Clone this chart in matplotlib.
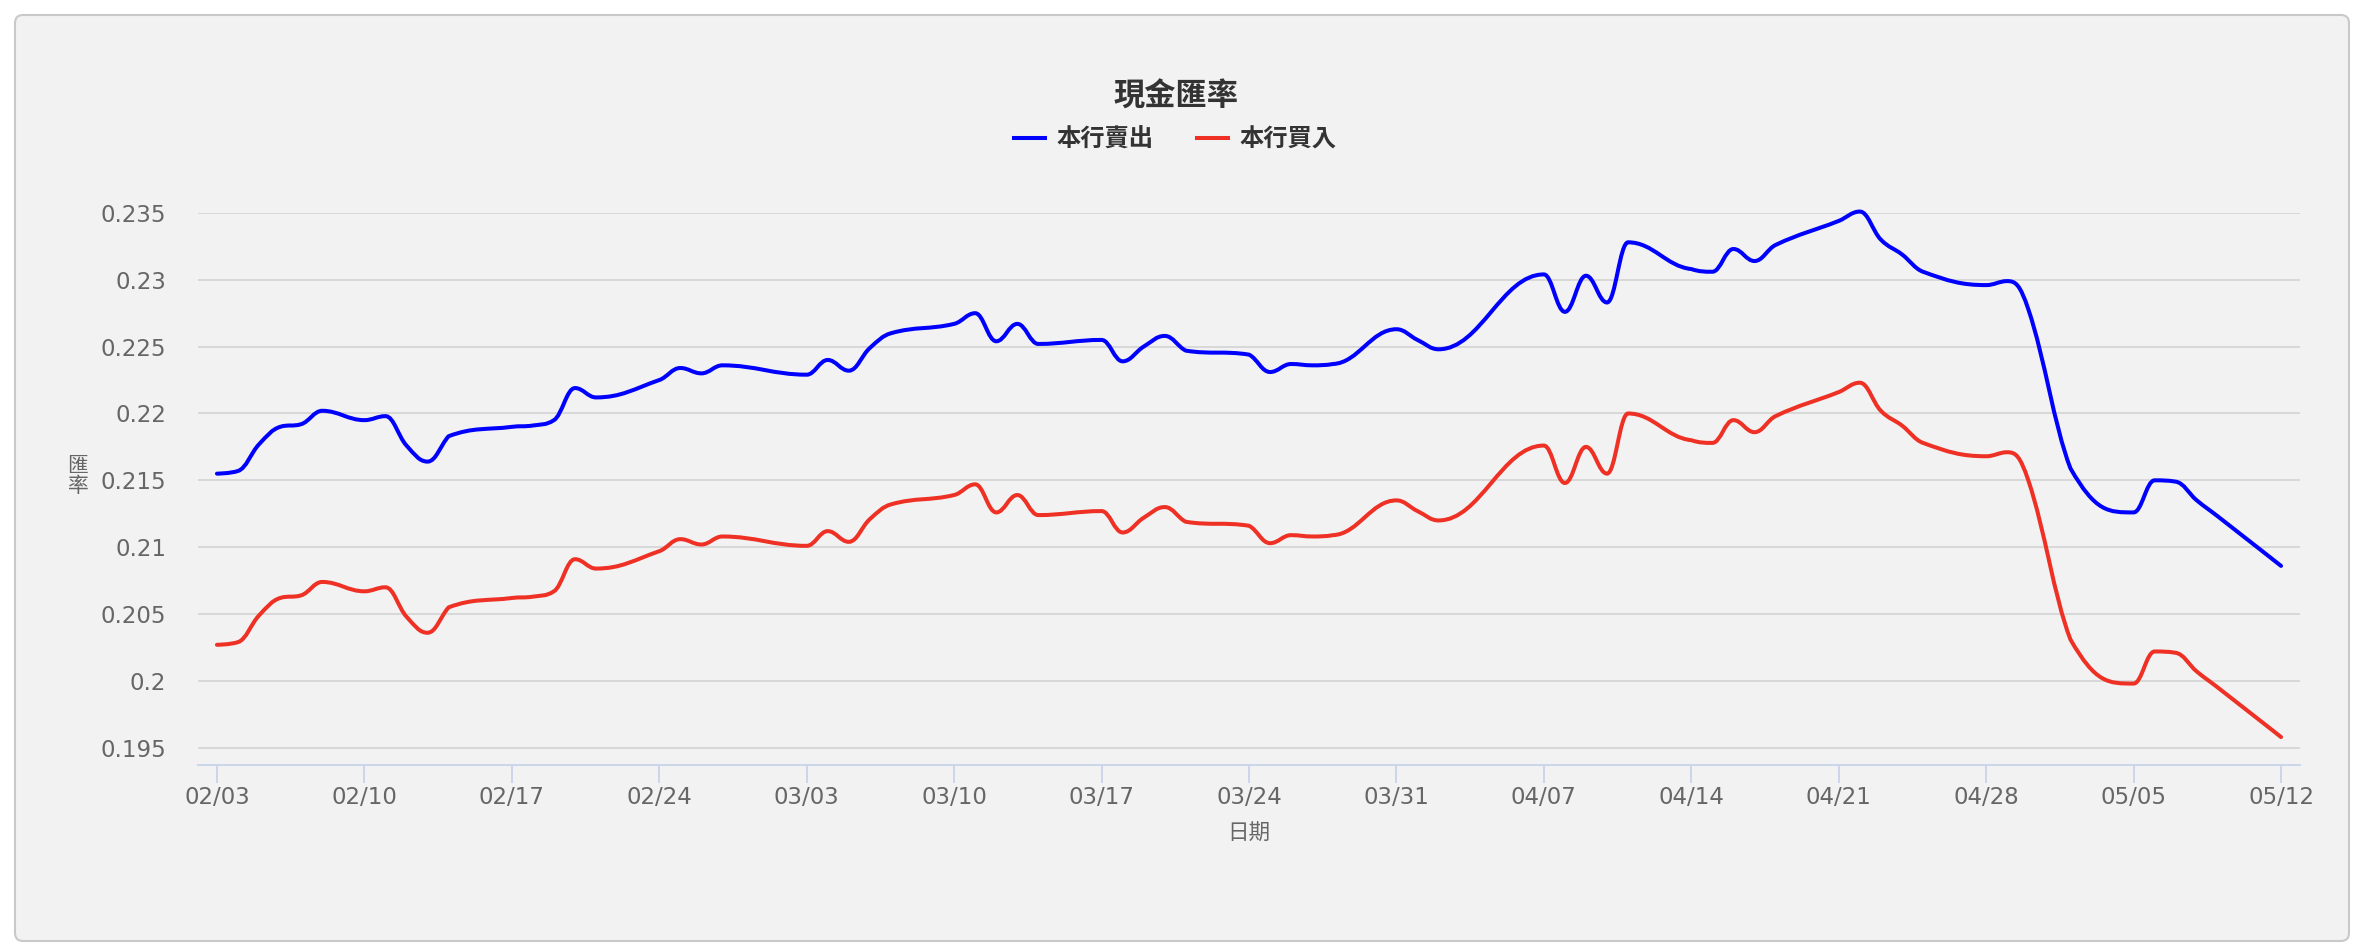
import matplotlib
matplotlib.use('Agg')
import numpy as np
import pandas as pd
import matplotlib.pyplot as plt
from matplotlib.path import Path
from matplotlib.patches import PathPatch, FancyBboxPatch
from matplotlib.lines import Line2D
from matplotlib.transforms import IdentityTransform

plt.rcParams['font.family'] = ['DejaVu Sans', 'Noto Sans CJK TC']

# business days (2025)
dates = ['02/03', '02/04', '02/05', '02/06', '02/07', '02/08',
         '02/10', '02/11', '02/12', '02/13', '02/14',
         '02/17', '02/18', '02/19', '02/20', '02/21',
         '02/24', '02/25', '02/26', '02/27',
         '03/03', '03/04', '03/05', '03/06', '03/07',
         '03/10', '03/11', '03/12', '03/13', '03/14',
         '03/17', '03/18', '03/19', '03/20', '03/21',
         '03/24', '03/25', '03/26', '03/27', '03/28',
         '03/31', '04/01', '04/02',
         '04/07', '04/08', '04/09', '04/10', '04/11',
         '04/14', '04/15', '04/16', '04/17', '04/18',
         '04/21', '04/22', '04/23', '04/24', '04/25',
         '04/28', '04/29', '04/30', '05/02',
         '05/05', '05/06', '05/07', '05/08', '05/09',
         '05/12']

sell = [0.2155, 0.2157, 0.2177, 0.2190, 0.2192, 0.2202,
        0.2195, 0.2198, 0.2176, 0.2164, 0.2183,
        0.2190, 0.2191, 0.2195, 0.2219, 0.2212,
        0.2225, 0.2234, 0.2230, 0.2236,
        0.2229, 0.2240, 0.2232, 0.2249, 0.2260,
        0.2267, 0.2275, 0.2254, 0.2267, 0.2252,
        0.2255, 0.2239, 0.2250, 0.2258, 0.2247,
        0.2244, 0.2231, 0.2237, 0.2236, 0.2237,
        0.2263, 0.2255, 0.2248,
        0.2304, 0.2276, 0.2303, 0.2283, 0.2328,
        0.2308, 0.2306, 0.2323, 0.2314, 0.2326,
        0.2344, 0.2351, 0.2330, 0.2319, 0.2306,
        0.2296, 0.2299, 0.2278, 0.2159,
        0.2126, 0.2150, 0.2149, 0.2135, 0.2123,
        0.2086]

buy = [0.2027, 0.2029, 0.2049, 0.2062, 0.2064, 0.2074,
       0.2067, 0.2070, 0.2048, 0.2036, 0.2055,
       0.2062, 0.2063, 0.2067, 0.2091, 0.2084,
       0.2097, 0.2106, 0.2102, 0.2108,
       0.2101, 0.2112, 0.2104, 0.2121, 0.2132,
       0.2139, 0.2147, 0.2126, 0.2139, 0.2124,
       0.2127, 0.2111, 0.2122, 0.2130, 0.2119,
       0.2116, 0.2103, 0.2109, 0.2108, 0.2109,
       0.2135, 0.2127, 0.2120,
       0.2176, 0.2148, 0.2175, 0.2155, 0.2200,
       0.2180, 0.2178, 0.2195, 0.2186, 0.2198,
       0.2216, 0.2223, 0.2202, 0.2191, 0.2178,
       0.2168, 0.2171, 0.2150, 0.2031,
       0.1998, 0.2022, 0.2021, 0.2007, 0.1995,
       0.1958]

tick_dates = ['02/03', '02/10', '02/17', '02/24', '03/03', '03/10', '03/17',
              '03/24', '03/31', '04/07', '04/14', '04/21', '04/28', '05/05', '05/12']
yticks = [0.195, 0.2, 0.205, 0.21, 0.215, 0.22, 0.225, 0.23, 0.235]
ytick_labels = ['0.195', '0.2', '0.205', '0.21', '0.215', '0.22', '0.225', '0.23', '0.235']

start = pd.Timestamp('2025-02-03')


def day_num(md):
    return (pd.Timestamp('2025-' + md.replace('/', '-')) - start).days


# same smoothing as a highcharts spline
def spline_path(xs, ys, smoothing=1.5):
    n = len(xs)
    lc = list(zip(xs, ys))
    rc = list(zip(xs, ys))
    denom = smoothing + 1
    for i in range(1, n - 1):
        px, py = xs[i], ys[i]
        lx, ly = xs[i - 1], ys[i - 1]
        nx, ny = xs[i + 1], ys[i + 1]
        lcx = (smoothing * px + lx) / denom
        lcy = (smoothing * py + ly) / denom
        rcx = (smoothing * px + nx) / denom
        rcy = (smoothing * py + ny) / denom
        corr = 0
        if rcx != lcx:
            corr = (rcy - lcy) * (rcx - px) / (rcx - lcx) + py - rcy
        lcy += corr
        rcy += corr
        if lcy > ly and lcy > py:
            lcy = max(ly, py)
            rcy = 2 * py - lcy
        elif lcy < ly and lcy < py:
            lcy = min(ly, py)
            rcy = 2 * py - lcy
        if rcy > ny and rcy > py:
            rcy = max(ny, py)
            lcy = 2 * py - rcy
        elif rcy < ny and rcy < py:
            rcy = min(ny, py)
            lcy = 2 * py - rcy
        lc[i] = (lcx, lcy)
        rc[i] = (rcx, rcy)
    verts = [(xs[0], ys[0])]
    codes = [Path.MOVETO]
    for i in range(1, n):
        verts += [rc[i - 1], lc[i], (xs[i], ys[i])]
        codes += [Path.CURVE4] * 3
    return Path(verts, codes)


W, H = 2364, 952
fig = plt.figure(figsize=(W / 100, H / 100), dpi=100)
fig.patch.set_facecolor('white')

box = FancyBboxPatch((15, 11), 2334, 926, boxstyle='round,pad=0,rounding_size=8',
                     transform=IdentityTransform(), facecolor='#f2f2f2',
                     edgecolor='#c9c9c9', linewidth=1.5, zorder=-10)
fig.patches.append(box)

ax = fig.add_axes([198 / W, 1 - 765 / H, (2300 - 198) / W, (765 - 212.9) / H])
ax.set_facecolor('none')
ax.set_zorder(1)

x = [day_num(d) for d in dates]
blue = '#0000ff'
red = '#ee3124'
for vals, col in [(sell, blue), (buy, red)]:
    patch = PathPatch(spline_path(x, vals), facecolor='none', edgecolor=col,
                      linewidth=2.9, capstyle='round', joinstyle='round', zorder=3,
                      clip_on=False)
    ax.add_patch(patch)

ax.set_xlim(-0.9, 98.9)
ax.set_ylim(0.19371, 0.235)

ax.set_yticks(yticks)
ax.set_yticklabels(ytick_labels)
ax.set_xticks([day_num(d) for d in tick_dates])
ax.set_xticklabels(tick_dates)

ax.grid(axis='y', color='#d8d8d8', linewidth=1.44)
ax.set_axisbelow(True)
for s in ['top', 'right', 'left']:
    ax.spines[s].set_visible(False)
ax.spines['bottom'].set_color('#ccd6eb')
ax.spines['bottom'].set_linewidth(1.44)

ax.tick_params(axis='x', colors='#ccd6eb', length=13, width=1.44, pad=2,
               labelsize=16.5, labelcolor='#666666')
ax.tick_params(axis='y', length=0, pad=23, labelsize=16.5, labelcolor='#666666')

fig.text(1176 / W, 1 - 97 / H, '現金匯率', ha='center', va='center',
         fontsize=22.5, fontweight='bold', color='#333333')

handles = [Line2D([], [], color=blue, lw=2.9), Line2D([], [], color=red, lw=2.9)]
fig.legend(handles, ['本行賣出', '本行買入'], loc='center',
           bbox_to_anchor=(1175 / W, 1 - 140 / H), ncol=2, frameon=False,
           prop={'weight': 'bold', 'size': 17.5}, labelcolor='#333333',
           handlelength=1.3, handletextpad=0.45, columnspacing=1.8)

fig.text(1249 / W, 1 - 834 / H, '日期', ha='center', va='center',
         fontsize=15.5, color='#666666')
fig.text(78 / W, 1 - 476 / H, '匯\n率', ha='center', va='center',
         fontsize=15, color='#666666', linespacing=1.0)

fig.savefig('out.png', dpi=100)
